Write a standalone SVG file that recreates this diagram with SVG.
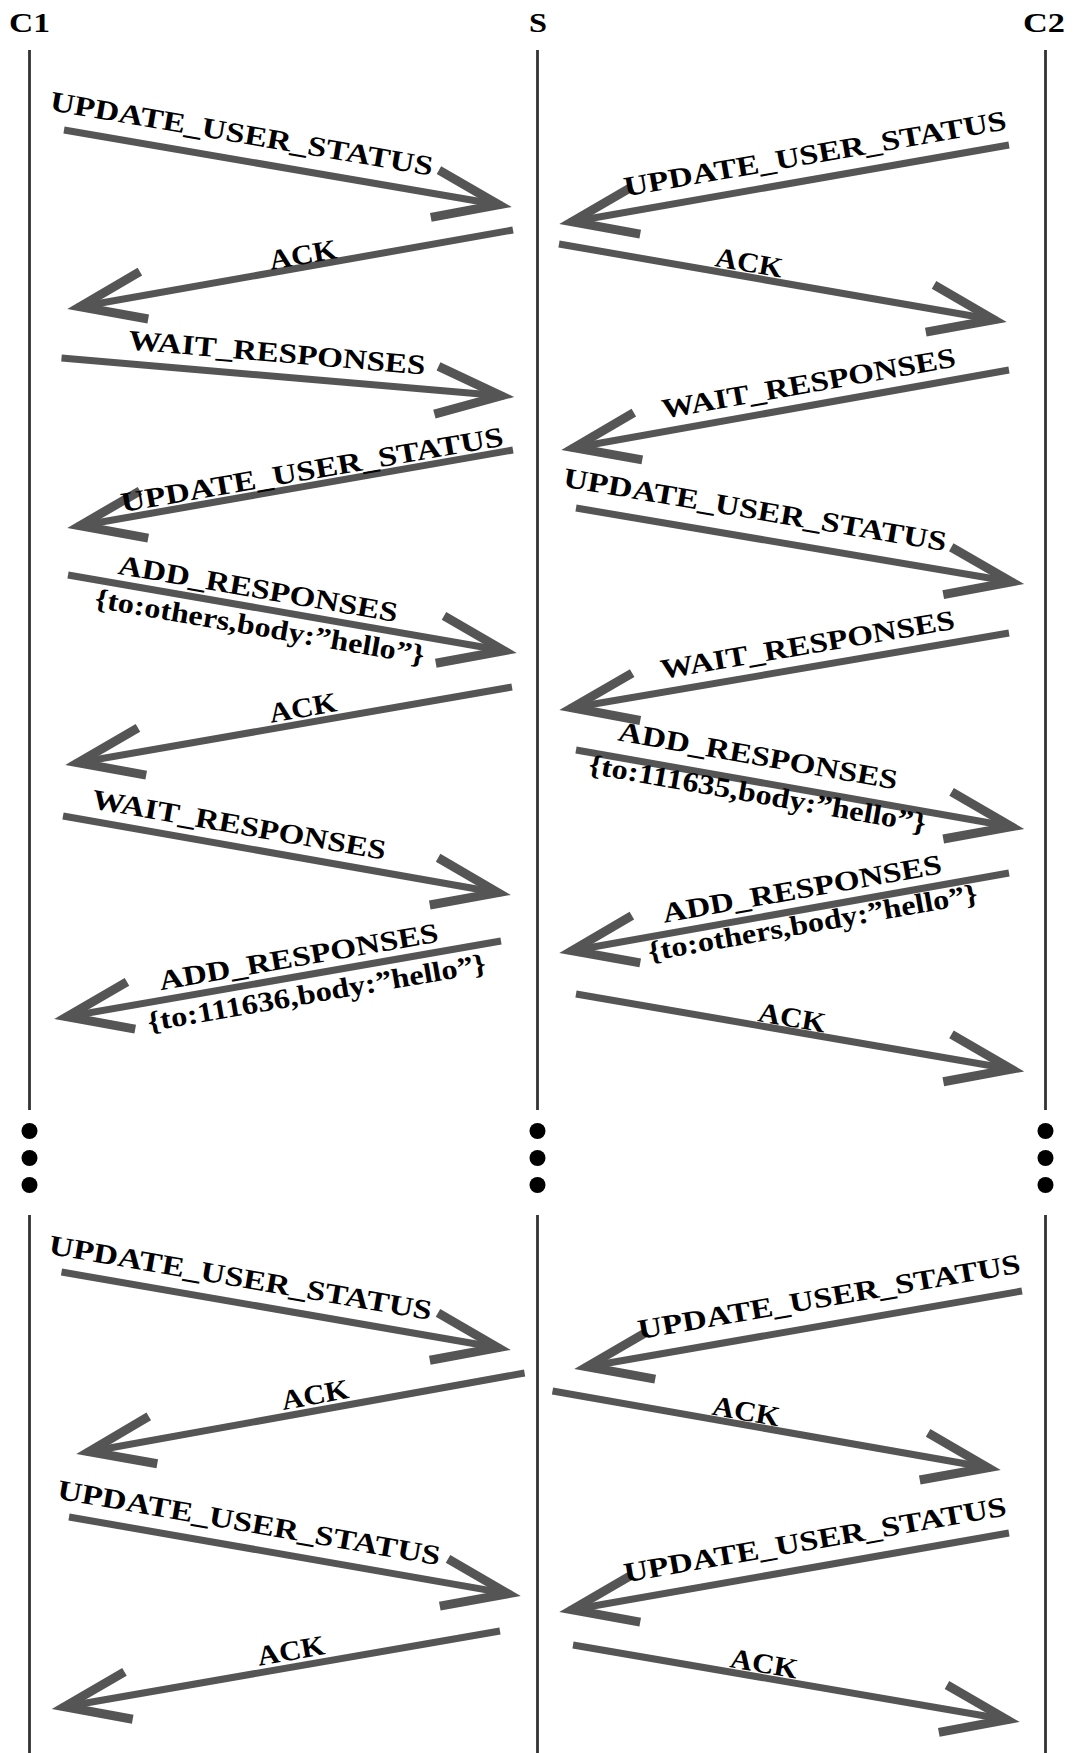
<svg xmlns="http://www.w3.org/2000/svg" width="1076" height="1753" viewBox="0 0 1076 1753">
<style>
.hdr{font-family:"Liberation Serif","Times New Roman",serif;font-weight:bold;font-size:28px;text-anchor:middle;fill:#000}
.lbl{font-family:"Liberation Serif","Times New Roman",serif;font-weight:bold;font-size:28px;text-anchor:middle;fill:#000}
.life{stroke:#333;stroke-width:2.8;fill:none}
.dot{fill:#000}
.msg{stroke:#555;stroke-width:7;fill:none;marker-end:url(#ah)}
</style>
<defs>
<marker id="ah" markerUnits="userSpaceOnUse" orient="auto" refX="0" refY="0" markerWidth="10" markerHeight="10" overflow="visible">
<path d="M-68,-24 L-3,0 L-68,24" fill="none" stroke="#555" stroke-width="9" stroke-linejoin="miter" stroke-miterlimit="10"/>
</marker>
</defs>
<rect width="1076" height="1753" fill="#fff"/>
<g id="C1">
<text class="hdr" x="29.5" y="32" textLength="41" lengthAdjust="spacingAndGlyphs">C1</text>
<line class="life" x1="29.5" y1="50" x2="29.5" y2="1110"/>
<circle class="dot" cx="29.5" cy="1131" r="8"/><circle class="dot" cx="29.5" cy="1158" r="8"/><circle class="dot" cx="29.5" cy="1185" r="8"/>
<line class="life" x1="29.5" y1="1215" x2="29.5" y2="1753"/>
</g>
<g id="S">
<text class="hdr" x="538" y="32" textLength="18" lengthAdjust="spacingAndGlyphs">S</text>
<line class="life" x1="537.5" y1="50" x2="537.5" y2="1110"/>
<circle class="dot" cx="537.5" cy="1131" r="8"/><circle class="dot" cx="537.5" cy="1158" r="8"/><circle class="dot" cx="537.5" cy="1185" r="8"/>
<line class="life" x1="537.5" y1="1215" x2="537.5" y2="1753"/>
</g>
<g id="C2">
<text class="hdr" x="1044" y="32" textLength="42" lengthAdjust="spacingAndGlyphs">C2</text>
<line class="life" x1="1045.5" y1="50" x2="1045.5" y2="1110"/>
<circle class="dot" cx="1045.5" cy="1131" r="8"/><circle class="dot" cx="1045.5" cy="1158" r="8"/><circle class="dot" cx="1045.5" cy="1185" r="8"/>
<line class="life" x1="1045.5" y1="1215" x2="1045.5" y2="1753"/>
</g>
<g id="connectors">
<g id="m1"><line class="msg" x1="64" y1="130" x2="501.9" y2="205.3"/><text class="lbl" transform="translate(241.6,134) rotate(9.75)" dy="9" textLength="388" lengthAdjust="spacingAndGlyphs">UPDATE_USER_STATUS</text></g>
<g id="m2"><line class="msg" x1="513" y1="230" x2="77.1" y2="307.2"/><text class="lbl" transform="translate(303,255) rotate(-10)" dy="9" textLength="68" lengthAdjust="spacingAndGlyphs">ACK</text></g>
<g id="m3"><line class="msg" x1="61.5" y1="358" x2="504.2" y2="396.1"/><text class="lbl" transform="translate(277,353) rotate(4.9)" dy="9" textLength="298" lengthAdjust="spacingAndGlyphs">WAIT_RESPONSES</text></g>
<g id="m4"><line class="msg" x1="513" y1="450" x2="77.1" y2="526.2"/><text class="lbl" transform="translate(312,470) rotate(-9.9)" dy="9" textLength="388" lengthAdjust="spacingAndGlyphs">UPDATE_USER_STATUS</text></g>
<g id="m5"><line class="msg" x1="68" y1="575" x2="506.9" y2="651.2"/><text class="lbl" transform="translate(258,589) rotate(9.85)" dy="9" textLength="283" lengthAdjust="spacingAndGlyphs">ADD_RESPONSES</text><text class="lbl" transform="translate(259.5,629) rotate(9.85)" dy="7" textLength="334" lengthAdjust="spacingAndGlyphs">{to:others,body:”hello”}</text></g>
<g id="m6"><line class="msg" x1="512" y1="687" x2="75.1" y2="763.2"/><text class="lbl" transform="translate(303,708) rotate(-9.9)" dy="9" textLength="68" lengthAdjust="spacingAndGlyphs">ACK</text></g>
<g id="m7"><line class="msg" x1="63" y1="816" x2="500.9" y2="893.2"/><text class="lbl" transform="translate(239,825) rotate(10)" dy="9" textLength="298" lengthAdjust="spacingAndGlyphs">WAIT_RESPONSES</text></g>
<g id="m8"><line class="msg" x1="501" y1="941" x2="64.1" y2="1017.2"/><text class="lbl" transform="translate(298.6,957) rotate(-9.9)" dy="9" textLength="283" lengthAdjust="spacingAndGlyphs">ADD_RESPONSES</text><text class="lbl" transform="translate(317,995) rotate(-9.9)" dy="7" textLength="343" lengthAdjust="spacingAndGlyphs">{to:111636,body:”hello”}</text></g>
<g id="m9"><line class="msg" x1="1009" y1="145" x2="569.1" y2="222.2"/><text class="lbl" transform="translate(815,154) rotate(-9.96)" dy="9" textLength="388" lengthAdjust="spacingAndGlyphs">UPDATE_USER_STATUS</text></g>
<g id="m10"><line class="msg" x1="559" y1="244" x2="996.9" y2="320.2"/><text class="lbl" transform="translate(749,263) rotate(9.9)" dy="9" textLength="68" lengthAdjust="spacingAndGlyphs">ACK</text></g>
<g id="m11"><line class="msg" x1="1009" y1="370" x2="571.1" y2="448.2"/><text class="lbl" transform="translate(808.7,383.6) rotate(-10.1)" dy="9" textLength="298" lengthAdjust="spacingAndGlyphs">WAIT_RESPONSES</text></g>
<g id="m12"><line class="msg" x1="576" y1="508" x2="1014.3" y2="582.3"/><text class="lbl" transform="translate(755,510) rotate(9.6)" dy="9" textLength="388" lengthAdjust="spacingAndGlyphs">UPDATE_USER_STATUS</text></g>
<g id="m13"><line class="msg" x1="1009" y1="633" x2="569.2" y2="708.3"/><text class="lbl" transform="translate(807.6,645) rotate(-9.7)" dy="9" textLength="298" lengthAdjust="spacingAndGlyphs">WAIT_RESPONSES</text></g>
<g id="m14"><line class="msg" x1="576" y1="750" x2="1014.4" y2="827.2"/><text class="lbl" transform="translate(758,756) rotate(10)" dy="9" textLength="283" lengthAdjust="spacingAndGlyphs">ADD_RESPONSES</text><text class="lbl" transform="translate(757,796) rotate(10)" dy="7" textLength="342" lengthAdjust="spacingAndGlyphs">{to:111635,body:”hello”}</text></g>
<g id="m15"><line class="msg" x1="1009" y1="873" x2="569.1" y2="951.2"/><text class="lbl" transform="translate(802,889) rotate(-10.1)" dy="9" textLength="283" lengthAdjust="spacingAndGlyphs">ADD_RESPONSES</text><text class="lbl" transform="translate(813,925) rotate(-10.1)" dy="7" textLength="334" lengthAdjust="spacingAndGlyphs">{to:others,body:”hello”}</text></g>
<g id="m16"><line class="msg" x1="576" y1="994" x2="1014.4" y2="1069.7"/><text class="lbl" transform="translate(792,1018) rotate(9.8)" dy="9" textLength="68" lengthAdjust="spacingAndGlyphs">ACK</text></g>
<g id="m17"><line class="msg" x1="61.5" y1="1272" x2="500.9" y2="1348.2"/><text class="lbl" transform="translate(240.5,1278) rotate(9.85)" dy="9" textLength="388" lengthAdjust="spacingAndGlyphs">UPDATE_USER_STATUS</text></g>
<g id="m18"><line class="msg" x1="524.6" y1="1373" x2="86.1" y2="1452.2"/><text class="lbl" transform="translate(315,1395) rotate(-10.2)" dy="9" textLength="68" lengthAdjust="spacingAndGlyphs">ACK</text></g>
<g id="m19"><line class="msg" x1="69" y1="1517" x2="510.9" y2="1594.2"/><text class="lbl" transform="translate(249,1523) rotate(9.9)" dy="9" textLength="388" lengthAdjust="spacingAndGlyphs">UPDATE_USER_STATUS</text></g>
<g id="m20"><line class="msg" x1="500" y1="1631" x2="61.6" y2="1707.2"/><text class="lbl" transform="translate(291,1651) rotate(-9.9)" dy="9" textLength="68" lengthAdjust="spacingAndGlyphs">ACK</text></g>
<g id="m21"><line class="msg" x1="1022" y1="1291" x2="584.1" y2="1367.2"/><text class="lbl" transform="translate(829,1297) rotate(-9.9)" dy="9" textLength="388" lengthAdjust="spacingAndGlyphs">UPDATE_USER_STATUS</text></g>
<g id="m22"><line class="msg" x1="552.5" y1="1391" x2="990.9" y2="1468.2"/><text class="lbl" transform="translate(746,1411.6) rotate(10)" dy="9" textLength="68" lengthAdjust="spacingAndGlyphs">ACK</text></g>
<g id="m23"><line class="msg" x1="1009" y1="1533" x2="569.1" y2="1610.2"/><text class="lbl" transform="translate(815,1540) rotate(-9.95)" dy="9" textLength="388" lengthAdjust="spacingAndGlyphs">UPDATE_USER_STATUS</text></g>
<g id="m24"><line class="msg" x1="573" y1="1645" x2="1009.9" y2="1720.2"/><text class="lbl" transform="translate(764,1664) rotate(9.8)" dy="9" textLength="68" lengthAdjust="spacingAndGlyphs">ACK</text></g>
</g>
</svg>
